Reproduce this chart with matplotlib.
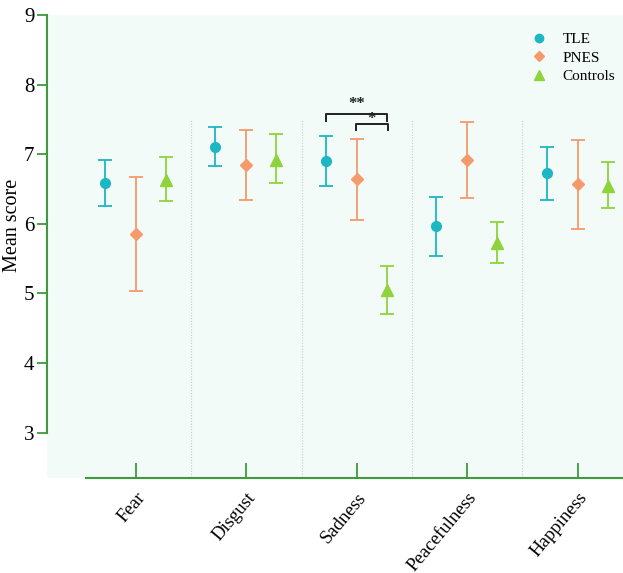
import matplotlib.pyplot as plt
import numpy as np
from matplotlib.lines import Line2D

plt.rcParams['font.family'] = ['Liberation Serif', 'DejaVu Serif']

emotions = ["Fear", "Disgust", "Sadness", "Peacefulness", "Happiness"]
groups = ["TLE", "PNES", "Controls"]

# mean, lower end of error bar, upper end of error bar
tle_mean = [6.58, 7.10, 6.90, 5.97, 6.73]
tle_low = [6.25, 6.83, 6.54, 5.53, 6.34]
tle_high = [6.91, 7.39, 7.26, 6.38, 7.10]

pnes_mean = [5.85, 6.84, 6.64, 6.92, 6.57]
pnes_low = [5.04, 6.34, 6.05, 6.37, 5.92]
pnes_high = [6.67, 7.35, 7.22, 7.46, 7.20]

ctrl_mean = [6.63, 6.91, 5.05, 5.72, 6.54]
ctrl_low = [6.32, 6.58, 4.70, 5.43, 6.22]
ctrl_high = [6.96, 7.29, 5.40, 6.02, 6.89]

yticks = [3, 4, 5, 6, 7, 8, 9]

colors = ["#1db7c3", "#f59a6b", "#8fd33b"]
markers = ["o", "D", "^"]
msizes = [7, 6, 8]
offsets = [-0.28, 0.0, 0.27]
axis_green = "#3d9a3d"

fig = plt.figure(figsize=(6.23, 5.73), dpi=100)
ax = fig.add_axes([0.0754, 0.166, 0.9246, 0.808])
ax.set_facecolor("#f2fbf7")

x = np.arange(len(emotions))
series = [(tle_mean, tle_low, tle_high),
          (pnes_mean, pnes_low, pnes_high),
          (ctrl_mean, ctrl_low, ctrl_high)]
for i, (m, lo, hi) in enumerate(series):
    m = np.array(m)
    yerr = [m - np.array(lo), np.array(hi) - m]
    ax.errorbar(x + offsets[i], m, yerr=yerr, fmt=markers[i], color=colors[i],
                ms=msizes[i], mec=colors[i], ecolor=colors[i], elinewidth=1.3,
                capsize=5, capthick=1.3, zorder=3)

# dotted separators between emotions
for s in [0.5, 1.5, 2.5, 3.5]:
    ax.plot([s, s], [2.0, 7.5], ls=(0, (1, 1.5)), color="#c8cccc", lw=0.8, zorder=1)

# significance brackets in Sadness
def bracket(x0, x1, y, drop, label, ty):
    ax.plot([x0, x0, x1, x1], [y - drop, y, y, y - drop], color="#222222", lw=1.4)
    ax.text((x0 + x1) / 2, ty, label, ha="center", va="center", fontsize=12,
            fontweight="bold", color="#222222")

bracket(2 - 0.28, 2 + 0.27, 7.57, 0.09, "**", 7.72)
bracket(2 - 0.01, 2 + 0.28, 7.43, 0.09, "*", 7.50)

ax.set_xlim(-0.805, 4.41)
ax.set_ylim(2.35, 9)
ax.set_yticks(yticks)
ax.set_xticks(x)
ax.set_xticklabels(emotions, rotation=50, ha="right", rotation_mode="anchor", fontsize=13.5)
ax.tick_params(axis="y", labelsize=15, color=axis_green, length=7, width=1.3, pad=2)
ax.tick_params(axis="x", direction="in", color=axis_green, length=11, width=1.3, pad=8)
ax.set_ylabel("Mean score", fontsize=14.5)
ax.yaxis.set_label_coords(-0.043, 0.546)

for side in ["top", "right"]:
    ax.spines[side].set_visible(False)
ax.spines["left"].set_color(axis_green)
ax.spines["left"].set_linewidth(1.5)
ax.spines["left"].set_bounds(3, 9)
ax.spines["bottom"].set_color(axis_green)
ax.spines["bottom"].set_linewidth(1.5)
ax.spines["bottom"].set_bounds(-0.45, 4.41)

handles = [Line2D([], [], marker=markers[i], color=colors[i], ls="none", ms=msizes[i] - 1)
           for i in range(3)]
ax.legend(handles, groups, loc="upper left", bbox_to_anchor=(0.818, 0.967),
          bbox_transform=fig.transFigure, frameon=False, fontsize=11,
          handletextpad=0.55, labelspacing=0.3)

fig.savefig("out.png", dpi=100)
